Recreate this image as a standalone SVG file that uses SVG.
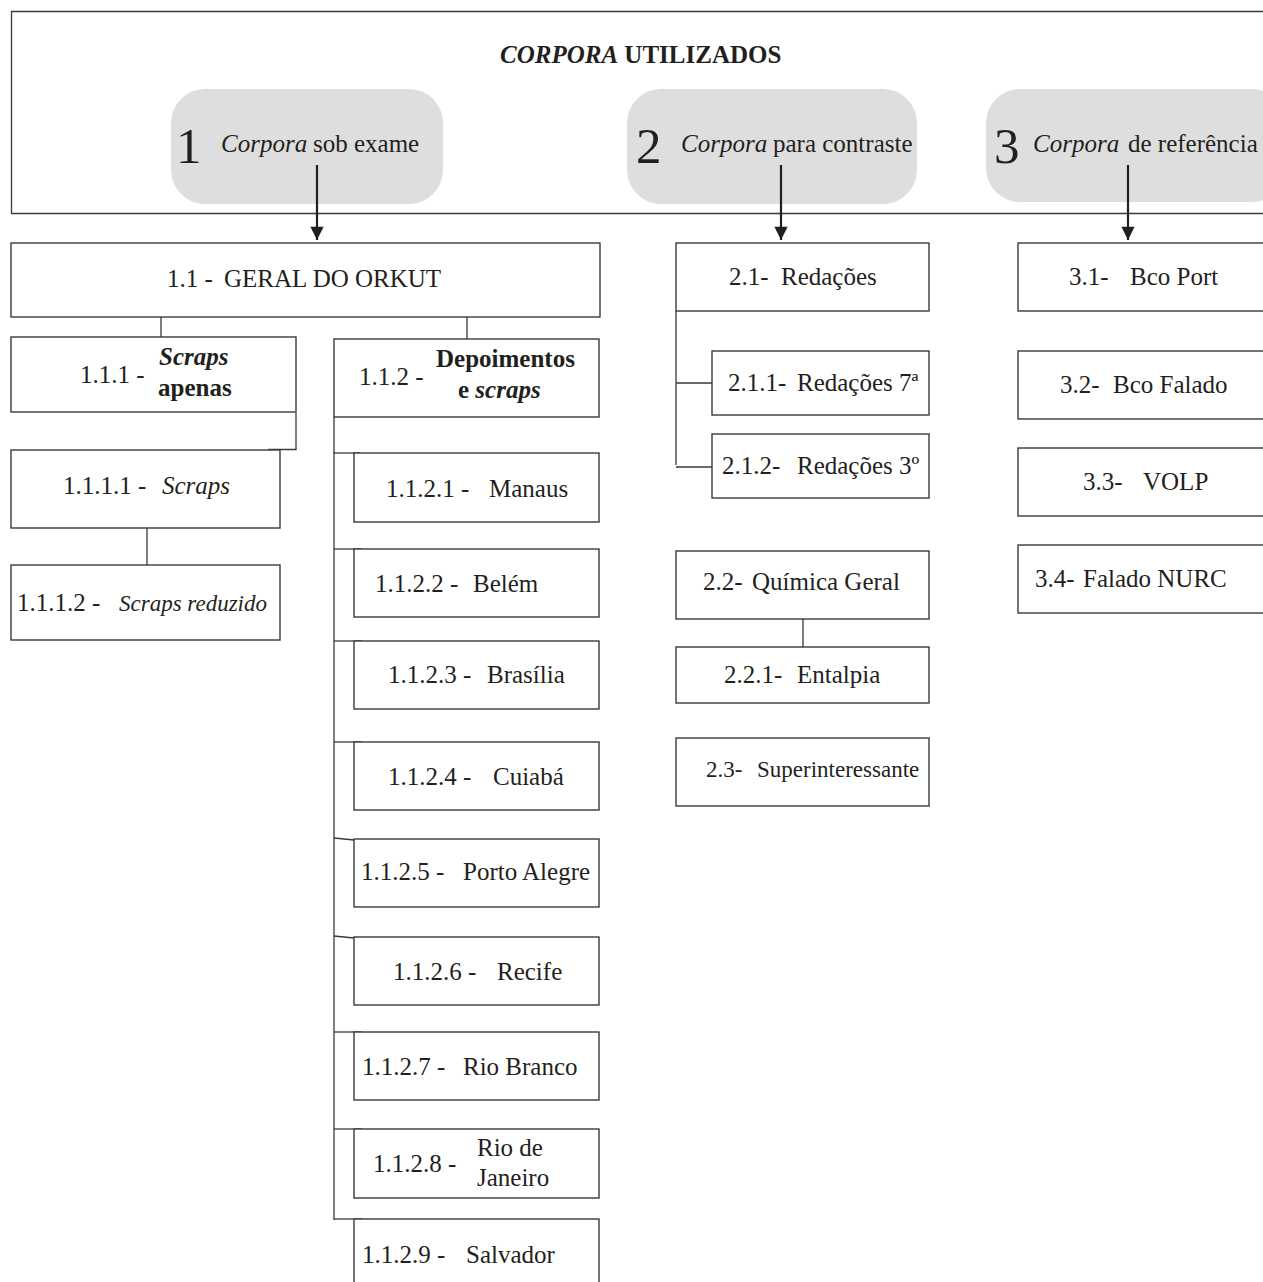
<svg xmlns="http://www.w3.org/2000/svg" width="1263" height="1282" viewBox="0 0 1263 1282">
<style>
text{font-family:"Liberation Serif","Times New Roman",serif;font-size:25px;fill:#231f20}
.box{fill:#fff;stroke:#3a3a3a;stroke-width:1.4}
.pill{fill:#dedede;stroke:none}
.ln{fill:none;stroke:#3a3a3a;stroke-width:1.3}
.arr{fill:none;stroke:#231f20;stroke-width:2.2}
.big{font-size:51px}
.i{font-style:italic}
.b{font-weight:bold}
.sm{font-size:23px}
</style>
<defs>
<marker id="ah" viewBox="0 0 10 10" refX="10" refY="5" markerWidth="6.5" markerHeight="6" markerUnits="strokeWidth" orient="auto">
<path d="M0,0 L10,5 L0,10 z" fill="#231f20"/>
</marker>
</defs>
<rect width="1263" height="1282" fill="#fff"/>

<g id="frame">
<path class="ln" d="M1263,11.5 H11.5 V213.5 H1263"/>
<text x="500" y="63" class="b"><tspan class="i">CORPORA</tspan> UTILIZADOS</text>
</g>

<g id="n1">
<rect class="pill" x="171" y="89" width="272" height="115" rx="34"/>
<text x="176" y="163" class="big">1</text>
<text x="221" y="152"><tspan class="i">Corpora</tspan><tspan x="313">sob exame</tspan></text>
</g>
<g id="n2">
<rect class="pill" x="627" y="89" width="290" height="115" rx="34"/>
<text x="636" y="163" class="big">2</text>
<text x="681" y="152"><tspan class="i">Corpora</tspan><tspan x="773">para contraste</tspan></text>
</g>
<g id="n3">
<rect class="pill" x="986" y="89" width="300" height="113" rx="34"/>
<text x="994" y="163" class="big">3</text>
<text x="1033" y="152"><tspan class="i">Corpora</tspan><tspan x="1128">de referência</tspan></text>
</g>

<g id="connectors">
<line class="arr" x1="317" y1="165" x2="317" y2="240" marker-end="url(#ah)"/>
<line class="arr" x1="781" y1="165" x2="781" y2="240" marker-end="url(#ah)"/>
<line class="arr" x1="1128" y1="165" x2="1128" y2="240" marker-end="url(#ah)"/>
<line class="ln" x1="161" y1="317" x2="161" y2="337"/>
<line class="ln" x1="467" y1="317" x2="467" y2="339"/>
<path class="ln" d="M296,413 V449.5 H268"/>
<line class="ln" x1="147" y1="528" x2="147" y2="565"/>
<line class="ln" x1="334" y1="417" x2="334" y2="1220"/>
<line class="ln" x1="333" y1="453" x2="360" y2="453"/>
<line class="ln" x1="334" y1="549" x2="362" y2="549"/>
<line class="ln" x1="334" y1="641" x2="362" y2="641"/>
<line class="ln" x1="334" y1="742" x2="362" y2="742"/>
<line class="ln" x1="334" y1="838" x2="354" y2="840"/>
<line class="ln" x1="334" y1="936" x2="354" y2="938"/>
<line class="ln" x1="334" y1="1032" x2="362" y2="1032"/>
<line class="ln" x1="334" y1="1129" x2="362" y2="1129"/>
<line class="ln" x1="334" y1="1219" x2="362" y2="1219"/>
<line class="ln" x1="676" y1="311" x2="676" y2="465"/>
<line class="ln" x1="676" y1="383" x2="712" y2="383"/>
<line class="ln" x1="676" y1="467" x2="712" y2="467"/>
<line class="ln" x1="803" y1="619" x2="803" y2="647"/>
</g>

<g id="n1_1"><rect class="box" x="11" y="243" width="589" height="74"/>
<text x="167" y="287">1.1 -<tspan x="224">GERAL DO ORKUT</tspan></text></g>

<g id="n1_1_1"><rect class="box" x="11" y="337" width="285" height="75"/>
<text x="80" y="383">1.1.1 -</text>
<text x="159" y="365" class="b i">Scraps</text>
<text x="158" y="396" class="b">apenas</text></g>

<g id="n1_1_2"><rect class="box" x="334" y="339" width="265" height="78"/>
<text x="359" y="385">1.1.2 -</text>
<text x="436" y="367" class="b">Depoimentos</text>
<text x="458" y="398" class="b">e <tspan class="i">scraps</tspan></text></g>

<g id="n1_1_1_1"><rect class="box" x="11" y="450" width="269" height="78"/>
<text x="63" y="494">1.1.1.1 -<tspan x="162" class="i">Scraps</tspan></text></g>

<g id="n1_1_1_2"><rect class="box" x="11" y="565" width="269" height="75"/>
<text x="17" y="611">1.1.1.2 -<tspan x="119" class="i sm">Scraps reduzido</tspan></text></g>

<g id="n1_1_2_1"><rect class="box" x="354" y="453" width="245" height="69"/>
<text x="386" y="497">1.1.2.1 -<tspan x="489">Manaus</tspan></text></g>
<g id="n1_1_2_2"><rect class="box" x="354" y="549" width="245" height="68"/>
<text x="375" y="592">1.1.2.2 -<tspan x="473">Belém</tspan></text></g>
<g id="n1_1_2_3"><rect class="box" x="354" y="641" width="245" height="68"/>
<text x="388" y="683">1.1.2.3 -<tspan x="487">Brasília</tspan></text></g>
<g id="n1_1_2_4"><rect class="box" x="354" y="742" width="245" height="68"/>
<text x="388" y="785">1.1.2.4 -<tspan x="493">Cuiabá</tspan></text></g>
<g id="n1_1_2_5"><rect class="box" x="354" y="839" width="245" height="68"/>
<text x="361" y="880">1.1.2.5 -<tspan x="463">Porto Alegre</tspan></text></g>
<g id="n1_1_2_6"><rect class="box" x="354" y="937" width="245" height="68"/>
<text x="393" y="980">1.1.2.6 -<tspan x="497">Recife</tspan></text></g>
<g id="n1_1_2_7"><rect class="box" x="354" y="1032" width="245" height="68"/>
<text x="362" y="1075">1.1.2.7 -<tspan x="463">Rio Branco</tspan></text></g>
<g id="n1_1_2_8"><rect class="box" x="354" y="1129" width="245" height="69"/>
<text x="373" y="1172">1.1.2.8 -</text>
<text x="477" y="1156">Rio de</text>
<text x="477" y="1186">Janeiro</text></g>
<g id="n1_1_2_9"><rect class="box" x="354" y="1219" width="245" height="80"/>
<text x="362" y="1263">1.1.2.9 -<tspan x="466">Salvador</tspan></text></g>

<g id="n2_1"><rect class="box" x="676" y="243" width="253" height="68"/>
<text x="729" y="285">2.1-<tspan x="781">Redações</tspan></text></g>
<g id="n2_1_1"><rect class="box" x="712" y="351" width="217" height="64"/>
<text x="728" y="391">2.1.1-<tspan x="797">Redações 7ª</tspan></text></g>
<g id="n2_1_2"><rect class="box" x="712" y="434" width="217" height="64"/>
<text x="722" y="474">2.1.2-<tspan x="797">Redações 3º</tspan></text></g>
<g id="n2_2"><rect class="box" x="676" y="551" width="253" height="68"/>
<text x="703" y="590">2.2-<tspan x="752">Química Geral</tspan></text></g>
<g id="n2_2_1"><rect class="box" x="676" y="647" width="253" height="56"/>
<text x="724" y="683">2.2.1-<tspan x="797">Entalpia</tspan></text></g>
<g id="n2_3"><rect class="box" x="676" y="738" width="253" height="68"/>
<text x="706" y="777" class="sm">2.3-<tspan x="757">Superinteressante</tspan></text></g>

<g id="n3_1"><rect class="box" x="1018" y="243" width="260" height="68"/>
<text x="1069" y="285">3.1-<tspan x="1130">Bco Port</tspan></text></g>
<g id="n3_2"><rect class="box" x="1018" y="351" width="260" height="68"/>
<text x="1060" y="393">3.2-<tspan x="1113">Bco Falado</tspan></text></g>
<g id="n3_3"><rect class="box" x="1018" y="448" width="260" height="68"/>
<text x="1083" y="490">3.3-<tspan x="1143">VOLP</tspan></text></g>
<g id="n3_4"><rect class="box" x="1018" y="545" width="260" height="68"/>
<text x="1035" y="587">3.4-<tspan x="1083">Falado NURC</tspan></text></g>
</svg>
